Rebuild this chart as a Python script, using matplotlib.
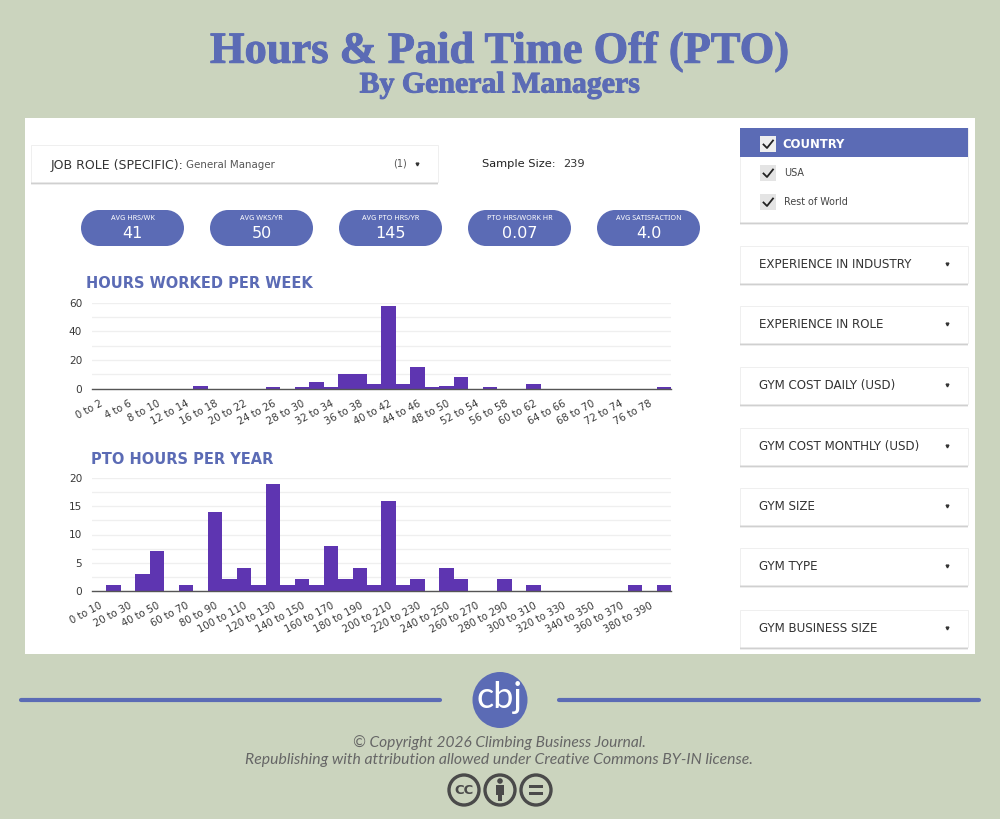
import matplotlib
matplotlib.use("Agg")
import matplotlib.pyplot as plt
import matplotlib.patheffects as pe
from matplotlib.patches import Rectangle, Ellipse, Circle

BG = '#CBD4BE'
BLUE = '#5B6BB5'
PURPLE = '#5E35B1'
DARK = '#3a3a3a'
UI_FONT = 'DejaVu Sans'

# chart data
hours_labels = [f"{i} to {i + 2}" for i in range(0, 80, 2)]
hours_counts = [0, 0, 0, 0, 0, 0, 0, 2, 0, 0,
                0, 0, 1, 0, 1, 5, 1, 10, 10, 3,
                58, 3, 15, 1, 2, 8, 0, 1, 0, 0,
                3, 0, 0, 0, 0, 0, 0, 0, 0, 1]
pto_labels = [f"{i} to {i + 10}" for i in range(0, 400, 10)]
pto_counts = [0, 1, 0, 3, 7, 0, 1, 0, 14, 2,
              4, 1, 19, 1, 2, 1, 8, 2, 4, 1,
              16, 1, 2, 0, 4, 2, 0, 0, 2, 0,
              1, 0, 0, 0, 0, 0, 0, 1, 0, 1]

# header tiles
kpi_names = ['AVG HRS/WK', 'AVG WKS/YR', 'AVG PTO HRS/YR', 'PTO HRS/WORK HR', 'AVG SATISFACTION']
kpi_values = ['41', '50', '145', '0.07', '4.0']
filter_names = ['EXPERIENCE IN INDUSTRY', 'EXPERIENCE IN ROLE', 'GYM COST DAILY (USD)',
                'GYM COST MONTHLY (USD)', 'GYM SIZE', 'GYM TYPE', 'GYM BUSINESS SIZE']
filter_tops = [246, 306, 367, 428, 488, 548, 610]
kpi_lefts = [81, 210, 339, 468, 597]

fig = plt.figure(figsize=(10, 8.19), dpi=100, facecolor=BG)

# whole figure overlay in pixel coords, y going down
bg = fig.add_axes([0, 0, 1, 1], zorder=0)
bg.set_xlim(0, 1000)
bg.set_ylim(819, 0)
bg.axis('off')


def card(x, y, w, h):
    # soft shadow under the card only
    for off, a in [(3, 0.07), (2, 0.12), (1, 0.2)]:
        bg.add_patch(Rectangle((x, y + h), w, off, fc='black', alpha=a, ec='none', zorder=2))
    bg.add_patch(Rectangle((x, y), w, h, fc='white', ec='#ededed', lw=0.6, zorder=3))


def arrow(x, y):
    bg.plot([x], [y], marker='v', ms=2, color='#333333', zorder=5)


def checkbox(x, y, face):
    bg.add_patch(Rectangle((x, y), 16, 16, fc=face, ec='none', zorder=5))
    bg.plot([x + 3.5, x + 7, x + 13], [y + 8.5, y + 12, y + 4.5], color='#222222', lw=1.3, zorder=6)


def pill(x, y, w, h):
    bg.add_patch(Rectangle((x + h / 2, y), w - h, h, fc=BLUE, ec='none', zorder=3))
    bg.add_patch(Circle((x + h / 2, y + h / 2), h / 2, fc=BLUE, ec='none', zorder=3))
    bg.add_patch(Circle((x + w - h / 2, y + h / 2), h / 2, fc=BLUE, ec='none', zorder=3))


bg.add_patch(Rectangle((25, 118), 950, 536, fc='white', ec='none', zorder=1))

# titles, stroked to get closer to the fat face of the original
fat = [pe.withStroke(linewidth=0.7, foreground=BLUE)]
bg.text(500, 52, 'Hours & Paid Time Off (PTO)', ha='center', va='center', fontsize=32,
        family='Liberation Serif', weight='bold', color=BLUE, path_effects=fat)
bg.text(500, 85, 'By General Managers', ha='center', va='center', fontsize=21.5,
        family='Liberation Serif', weight='bold', color=BLUE, path_effects=fat)

# job role selector
card(31, 145, 407, 37)
bg.text(51, 165, 'JOB ROLE (SPECIFIC):', va='center', fontsize=9, family=UI_FONT, color='#333333', zorder=5)
bg.text(186, 165, 'General Manager', va='center', fontsize=7.4, family=UI_FONT, color='#555555', zorder=5)
bg.text(400, 164, '(1)', ha='center', va='center', fontsize=7, family=UI_FONT, color='#555555', zorder=5)
arrow(417, 164)
bg.text(482, 164, 'Sample Size:', va='center', fontsize=8.2, family=UI_FONT, color='#222222')
bg.text(563, 164, '239', va='center', fontsize=8.2, family=UI_FONT, color='#333333')

# kpi pills
for left, name, val in zip(kpi_lefts, kpi_names, kpi_values):
    pill(left, 210, 103, 36)
    bg.text(left + 51.5, 219, name, ha='center', va='center', fontsize=5.2,
            family='Noto Sans', color='white', zorder=4)
    bg.text(left + 51.5, 233, val, ha='center', va='center', fontsize=11.5,
            family=UI_FONT, color='white', zorder=4)

# chart headings
bg.text(86, 283, 'HOURS WORKED PER WEEK', va='center', fontsize=10.5, weight='bold',
        family='DejaVu Sans', color=BLUE)
bg.text(91, 460, 'PTO HOURS PER YEAR', va='center', fontsize=10.5, weight='bold',
        family='DejaVu Sans', color=BLUE)

# country filter
card(740, 128, 228, 94)
bg.add_patch(Rectangle((740, 128), 228, 29, fc=BLUE, ec='none', zorder=4))
checkbox(760, 136, '#eeeeee')
bg.text(782, 144, 'COUNTRY', va='center', fontsize=8.4, weight='bold', family='DejaVu Sans',
        color='white', zorder=6)
checkbox(760, 165, '#e4e4e4')
bg.text(784, 173, 'USA', va='center', fontsize=6.9, family='DejaVu Sans', color='#444444', zorder=6)
checkbox(760, 194, '#e4e4e4')
bg.text(784, 202, 'Rest of World', va='center', fontsize=6.9, family='DejaVu Sans', color='#444444', zorder=6)

# the closed filter cards
for top, name in zip(filter_tops, filter_names):
    card(740, top, 228, 37)
    bg.text(759, top + 18.5, name, va='center', fontsize=8.6, family='DejaVu Sans',
            color='#333333', zorder=5)
    arrow(947, top + 18)

# footer
bg.plot([21, 440], [700, 700], color=BLUE, lw=3, solid_capstyle='round', zorder=2)
bg.plot([559, 979], [700, 700], color=BLUE, lw=3, solid_capstyle='round', zorder=2)
bg.add_patch(Ellipse((500, 700), 55, 56, fc=BLUE, ec='none', zorder=3))
bg.text(500, 698, 'cbj', ha='center', va='center', fontsize=26, family='Lato',
        color='white', zorder=4)
bg.text(499, 743, '© Copyright 2026 Climbing Business Journal.', ha='center', va='center',
        fontsize=11.2, style='italic', family='Lato', color='#666666')
bg.text(499, 760, 'Republishing with attribution allowed under Creative Commons BY-IN license.',
        ha='center', va='center', fontsize=11.3, style='italic', family='Lato', color='#666666')

# cc icons
for cx in [464, 500, 536]:
    bg.add_patch(Circle((cx, 790), 15, fc='none', ec='#4a4a4a', lw=2.4, zorder=3))
bg.text(464, 790, 'CC', ha='center', va='center', fontsize=9.5, weight='bold',
        family='DejaVu Sans', color='#4a4a4a')
bg.add_patch(Circle((500, 781), 2.8, fc='#4a4a4a', ec='none', zorder=3))
bg.add_patch(Rectangle((496, 785), 8, 10, fc='#4a4a4a', ec='none', zorder=3))
bg.add_patch(Rectangle((498, 795), 4, 6, fc='#4a4a4a', ec='none', zorder=3))
bg.add_patch(Rectangle((529, 785), 14, 3, fc='#4a4a4a', ec='none', zorder=3))
bg.add_patch(Rectangle((529, 792), 14, 3, fc='#4a4a4a', ec='none', zorder=3))


def draw_hist(rect, counts, labels, ymax, major, minor):
    x0, y_top, w, h = rect
    ax = fig.add_axes([x0 / 1000, 1 - (y_top + h) / 819, w / 1000, h / 819], zorder=2)
    ax.patch.set_alpha(0)
    ax.bar(range(len(counts)), counts, width=1.0, color=PURPLE, zorder=3)
    ax.set_xlim(-0.5, len(counts) - 0.5)
    ax.set_ylim(0, ymax)
    ax.set_yticks(range(0, ymax + 1, major))
    ax.set_yticks([v * minor for v in range(int(ymax / minor) + 1)], minor=True)
    ax.grid(True, axis='y', which='both', color='#efefef', lw=0.9, zorder=0)
    ax.set_xticks(range(0, len(counts), 2))
    ax.set_xticklabels(labels[::2], rotation=28, ha='right', rotation_mode='anchor',
                       fontsize=7.2, color=DARK, family='DejaVu Sans')
    ax.tick_params(axis='x', length=0, pad=7)
    ax.tick_params(axis='y', which='both', length=0, labelsize=7.6, labelcolor=DARK, pad=7)
    for s in ['top', 'left', 'right']:
        ax.spines[s].set_visible(False)
    ax.spines['bottom'].set_color('#555555')
    ax.spines['bottom'].set_linewidth(1.0)
    ax.spines['bottom'].set_zorder(4)
    return ax


draw_hist((92, 302.7, 579, 86), hours_counts, hours_labels, 60, 20, 10)
draw_hist((92, 478.3, 579, 112.4), pto_counts, pto_labels, 20, 5, 2.5)

fig.savefig('out.png', dpi=100, facecolor=BG)
